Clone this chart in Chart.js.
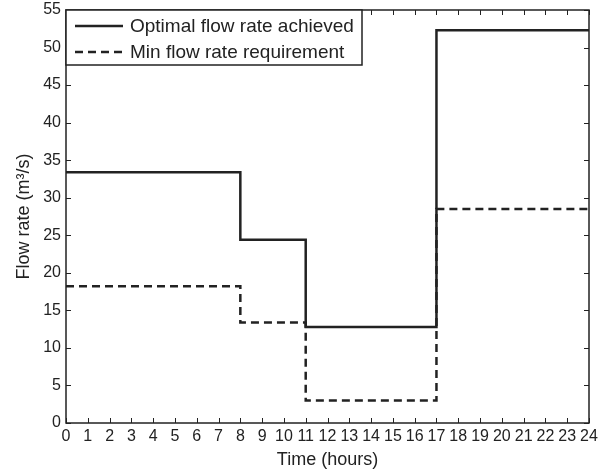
<!DOCTYPE html>
<html>
<head>
<meta charset="utf-8">
<script src="https://cdn.jsdelivr.net/npm/chart.js@4.4.0/dist/chart.umd.min.js"></script>
<style>
  html, body { margin: 0; padding: 0; background: #fff; }
  #wrap { width: 607px; height: 471px; }
</style>
</head>
<body>
<div id="wrap"><canvas id="c"></canvas></div>
<script>
const hours = [0, 8, 11, 17, 24];
const optimalFlow = [33.4, 24.4, 12.8, 52.3, 52.3];
const minFlow = [18.2, 13.4, 3.0, 28.5, 28.5];
const xTicks = [...Array(25).keys()];
const yTicks = [0, 5, 10, 15, 20, 25, 30, 35, 40, 45, 50, 55];

const ink = "#222";
const font = "'Liberation Sans', Arial, sans-serif";

const toPoints = (ys) => hours.map((h, i) => ({ x: h, y: ys[i] }));

// frame + inward ticks on all four sides, MATLAB style, and the legend box
const frame = {
  id: "frame",
  afterDraw(chart) {
    const { ctx, chartArea: a, scales } = chart;
    ctx.save();
    ctx.strokeStyle = ink;
    ctx.lineWidth = 1.5;
    ctx.strokeRect(a.left, a.top, a.right - a.left, a.bottom - a.top);
    const len = 5;
    ctx.lineWidth = 1;
    ctx.beginPath();
    xTicks.forEach((t) => {
      const px = Math.round(scales.x.getPixelForValue(t)) + 0.5;
      ctx.moveTo(px, a.bottom); ctx.lineTo(px, a.bottom - len);
      ctx.moveTo(px, a.top); ctx.lineTo(px, a.top + len);
    });
    yTicks.forEach((t) => {
      const py = Math.round(scales.y.getPixelForValue(t)) + 0.5;
      ctx.moveTo(a.left, py); ctx.lineTo(a.left + len, py);
      ctx.moveTo(a.right, py); ctx.lineTo(a.right - len, py);
    });
    ctx.stroke();

    const bx = a.left, by = a.top, bw = 296, bh = 55;
    ctx.fillStyle = "#fff";
    ctx.fillRect(bx, by, bw, bh);
    ctx.lineWidth = 1.5;
    ctx.strokeRect(bx, by, bw, bh);
    ctx.font = "19px " + font;
    ctx.textBaseline = "middle";
    chart.data.datasets.forEach((ds, i) => {
      const y = by + 16 + i * 26;
      ctx.beginPath();
      ctx.lineWidth = 2.5;
      ctx.setLineDash(ds.borderDash || []);
      ctx.moveTo(bx + 9, y); ctx.lineTo(bx + 57, y);
      ctx.stroke();
      ctx.setLineDash([]);
      ctx.fillStyle = ink;
      ctx.fillText(ds.label, bx + 64, y + 1);
    });
    ctx.restore();
  },
};

new Chart(document.getElementById("c"), {
  type: "line",
  data: {
    datasets: [
      {
        label: "Optimal flow rate achieved",
        data: toPoints(optimalFlow),
        stepped: "before",
        borderColor: ink,
        borderWidth: 2.5,
        pointRadius: 0,
        fill: false,
      },
      {
        label: "Min flow rate requirement",
        data: toPoints(minFlow),
        stepped: "before",
        borderColor: ink,
        borderWidth: 2.5,
        borderDash: [8, 5],
        pointRadius: 0,
        fill: false,
      },
    ],
  },
  options: {
    responsive: true,
    maintainAspectRatio: false,
    animation: false,
    layout: { padding: { top: 10, right: 18, left: 0, bottom: 0 } },
    scales: {
      x: {
        type: "linear",
        min: 0,
        max: 24,
        grid: { display: false, drawTicks: false },
        border: { display: false },
        afterBuildTicks: (s) => { s.ticks = xTicks.map((v) => ({ value: v })); },
        afterFit: (s) => {
          s.height = 48;
          s.paddingLeft = 0;
          s.paddingRight = 0;
        },
        ticks: {
          autoSkip: false,
          maxRotation: 0,
          padding: 4,
          color: ink,
          font: { family: font, size: 16 },
        },
        title: {
          display: true,
          text: "Time (hours)",
          color: ink,
          padding: { top: 3, bottom: 0 },
          font: { family: font, size: 18 },
        },
      },
      y: {
        min: 0,
        max: 55,
        grid: { display: false, drawTicks: false },
        border: { display: false },
        afterBuildTicks: (s) => { s.ticks = yTicks.map((v) => ({ value: v })); },
        afterFit: (s) => {
          s.width = 66;
          s.paddingTop = 0;
          s.paddingBottom = 0;
        },
        ticks: {
          padding: 5,
          color: ink,
          font: { family: font, size: 16 },
        },
        title: {
          display: true,
          text: "Flow rate (m³/s)",
          color: ink,
          padding: { top: 13, bottom: 0 },
          font: { family: font, size: 18 },
        },
      },
    },
    plugins: {
      legend: { display: false },
      tooltip: { enabled: false },
    },
  },
  plugins: [frame],
});
</script>
</body>
</html>
